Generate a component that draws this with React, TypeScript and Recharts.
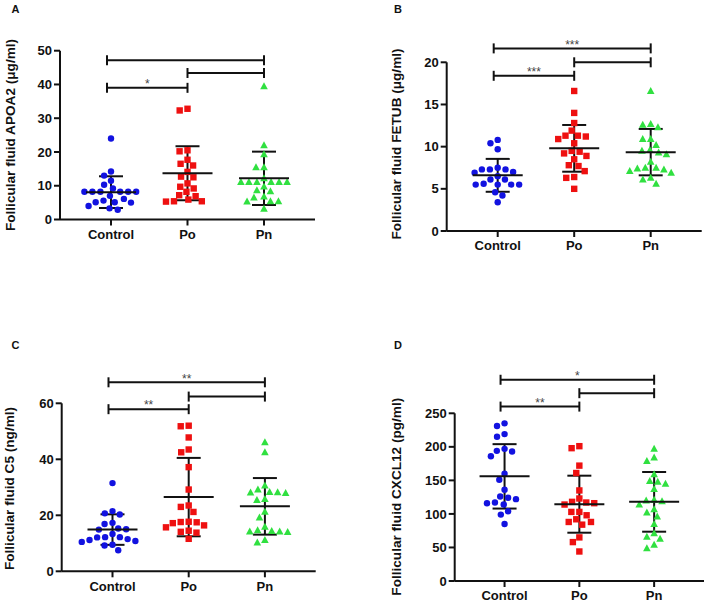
import { ComposedChart, Scatter, XAxis, YAxis, ReferenceLine, ErrorBar } from "recharts";

const GROUPS = ["Control", "Po", "Pn"];
const COLORS = ["#1212e0", "#ee1010", "#30e040"];
const SHAPES = ["circle", "square", "triangle"];
const FONT = '"Liberation Sans", Arial, sans-serif';
const INK = "#111";

// Panel A: APOA2 (μg/ml)
const A_CONTROL = [24.0, 14.2, 13.0, 11.5, 10.3, 9.2, 8.2, 8.2, 8.2, 8.2, 8.2, 8.2, 7.0, 6.1, 5.6, 5.1, 5.1, 5.0, 4.0, 3.3, 2.9];
const A_PO = [32.8, 32.3, 20.5, 20.2, 17.7, 16.5, 16.0, 14.1, 12.7, 12.5, 10.7, 9.7, 9.2, 8.2, 7.2, 6.9, 5.9, 5.4, 5.4, 5.3];
const A_PN = [39.5, 22.0, 19.3, 15.5, 15.5, 12.2, 11.1, 11.1, 11.1, 11.1, 11.1, 11.1, 9.8, 8.7, 8.4, 6.8, 6.5, 5.4, 5.4, 5.3, 3.2];
const A_MEAN = [8.1, 13.7, 12.2];
const A_SD = [4.7, 8.0, 7.9];
const A_TICKS = [0, 10, 20, 30, 40, 50];
const A_BRACKETS = [
  { from: 1, to: 3, y: 47.2, mark: "" },
  { from: 2, to: 3, y: 43.4, mark: "" },
  { from: 1, to: 2, y: 39.0, mark: "*" },
];

// Panel B: FETUB (μg/ml)
const B_CONTROL = [10.8, 10.4, 9.7, 7.5, 7.3, 7.3, 7.3, 7.0, 6.9, 6.5, 6.1, 6.1, 5.6, 5.5, 5.5, 5.5, 5.5, 4.6, 4.2, 3.4];
const B_PO = [16.6, 14.0, 12.8, 11.9, 11.3, 11.3, 11.2, 10.9, 10.4, 9.5, 9.4, 9.2, 8.9, 8.5, 7.8, 7.7, 7.1, 6.4, 6.3, 5.0];
const B_PN = [16.6, 12.7, 12.6, 12.3, 10.9, 10.9, 10.2, 9.6, 9.5, 9.3, 9.1, 8.2, 7.5, 7.5, 7.4, 7.3, 7.1, 6.9, 6.3, 6.1, 5.6];
const B_MEAN = [6.6, 9.8, 9.35];
const B_SD = [1.95, 2.77, 2.75];
const B_TICKS = [0, 5, 10, 15, 20];
const B_BRACKETS = [
  { from: 1, to: 3, y: 21.65, mark: "***" },
  { from: 2, to: 3, y: 20.0, mark: "" },
  { from: 1, to: 2, y: 18.4, mark: "***" },
];

// Panel C: C5 (ng/ml)
const C_CONTROL = [31.5, 21.5, 20.7, 20.3, 17.3, 16.9, 15.3, 15.0, 14.9, 13.3, 12.2, 12.2, 12.1, 11.5, 11.2, 10.8, 10.5, 9.5, 9.2, 7.5];
const C_PO = [52.0, 51.8, 47.8, 43.5, 42.5, 37.2, 29.2, 23.5, 23.0, 21.2, 17.7, 17.6, 17.5, 17.2, 16.4, 15.7, 14.5, 14.1, 13.8, 11.6];
const C_PN = [46.1, 42.5, 30.6, 29.2, 28.3, 28.2, 28.1, 28.0, 25.8, 25.5, 21.3, 19.2, 15.9, 14.7, 14.4, 14.2, 14.2, 14.0, 11.2, 10.3];
const C_MEAN = [14.9, 26.5, 23.2];
const C_SD = [5.45, 14.0, 10.1];
const C_TICKS = [0, 20, 40, 60];
const C_BRACKETS = [
  { from: 1, to: 3, y: 67.5, mark: "**" },
  { from: 2, to: 3, y: 62.4, mark: "" },
  { from: 1, to: 2, y: 57.9, mark: "**" },
];

// Panel D: CXCL12 (pg/ml)
const D_CONTROL = [235, 231, 219, 215, 197, 194, 193, 186, 160, 151, 136, 126, 124, 122, 117, 116, 114, 104, 99, 85];
const D_PO = [201, 198, 172, 161, 135, 123, 118, 117, 116, 114, 103, 103, 98, 92, 88, 88, 84, 65, 58, 44];
const D_PN = [197, 184, 179, 159, 149, 148, 145, 137, 121, 120, 119, 114, 107, 102, 96, 85, 71, 66, 63, 54, 49];
const D_MEAN = [156, 114.5, 118];
const D_SD = [48, 42.5, 44.5];
const D_TICKS = [0, 50, 100, 150, 200, 250];
const D_BRACKETS = [
  { from: 1, to: 3, y: 300, mark: "*" },
  { from: 2, to: 3, y: 280, mark: "" },
  { from: 1, to: 2, y: 260, mark: "**" },
];

const X_MIN = 1 / 3;
const X_MAX = 11 / 3;
const PW = 354;
const PH = 310;
const YW = 40;
const XH = 26;

const PANELS = [
  {
    letter: "A", title: "Follicular fluid APOA2 (μg/ml)", left: 0, top: 0,
    plotLeft: 60, plotRight: 315, plotTop: 50.7, plotBottom: 219.5, yMax: 50, ticks: A_TICKS,
    groups: [A_CONTROL, A_PO, A_PN], mean: A_MEAN, sd: A_SD, brackets: A_BRACKETS,
    labelX: 10, labelY: 135, letterX: 15.5, letterY: 12.5,
  },
  {
    letter: "B", title: "Follicular fluid FETUB (μg/ml)", left: 354, top: 0,
    plotLeft: 92.7, plotRight: 347.7, plotTop: 62.3, plotBottom: 231, yMax: 20, ticks: B_TICKS,
    groups: [B_CONTROL, B_PO, B_PN], mean: B_MEAN, sd: B_SD, brackets: B_BRACKETS,
    labelX: 42.7, labelY: 144, letterX: 44, letterY: 12.5,
  },
  {
    letter: "C", title: "Follicular fluid C5 (ng/ml)", left: 0, top: 300,
    plotLeft: 61.7, plotRight: 315.7, plotTop: 103.3, plotBottom: 271.3, yMax: 60, ticks: C_TICKS,
    groups: [C_CONTROL, C_PO, C_PN], mean: C_MEAN, sd: C_SD, brackets: C_BRACKETS,
    labelX: 9.3, labelY: 188.5, letterX: 15.5, letterY: 48.7,
  },
  {
    letter: "D", title: "Follicular fluid CXCL12 (pg/ml)", left: 354, top: 300,
    plotLeft: 100.7, plotRight: 350, plotTop: 113.3, plotBottom: 281, yMax: 250, ticks: D_TICKS,
    groups: [D_CONTROL, D_PO, D_PN], mean: D_MEAN, sd: D_SD, brackets: D_BRACKETS,
    labelX: 42.7, labelY: 196.7, letterX: 44, letterY: 48.7,
  },
];

// simple beeswarm: push overlapping points sideways, in pixel space
function swarm(values: number[], group: number, pxX: number, pxY: number) {
  const D = 8;
  const placed: { px: number; py: number }[] = [];
  const out: { x: number; y: number }[] = new Array(values.length);
  const order = values.map((_, i) => i).sort((a, b) => values[b] - values[a]);
  for (const i of order) {
    const py = values[i] * pxY;
    const blocked: [number, number][] = [];
    for (const p of placed) {
      const dy = Math.abs(p.py - py);
      if (dy < D) {
        const w = Math.sqrt(D * D - dy * dy);
        blocked.push([p.px - w, p.px + w]);
      }
    }
    const cands = [0];
    blocked.forEach(([a, b]) => cands.push(a, b));
    cands.sort((a, b) => Math.abs(a) - Math.abs(b) || a - b);
    const px = cands.find((c) => blocked.every(([a, b]) => c <= a + 1e-6 || c >= b - 1e-6)) ?? 0;
    placed.push({ px, py });
    out[i] = { x: group + px / pxX, y: values[i] };
  }
  return out;
}

function marker(kind: string, color: string) {
  return (p: any) => {
    const { cx, cy } = p;
    if (kind === "circle") return <circle cx={cx} cy={cy} r={3.2} fill={color} />;
    if (kind === "square") return <rect x={cx - 3.2} y={cy - 3.2} width={6.4} height={6.4} fill={color} />;
    return <polygon points={`${cx},${cy - 4} ${cx - 3.8},${cy + 3} ${cx + 3.8},${cy + 3}`} fill={color} />;
  };
}

const meanLine = (p: any) => (
  <line x1={p.cx - 25} x2={p.cx + 25} y1={p.cy} y2={p.cy} stroke={INK} strokeWidth={2} />
);

function Panel({ cfg }: { cfg: (typeof PANELS)[number] }) {
  const pxX = (cfg.plotRight - cfg.plotLeft) / (X_MAX - X_MIN);
  const pxY = (cfg.plotBottom - cfg.plotTop) / cfg.yMax;
  const capY = 5 / pxY;
  const startShift = 4 / pxX;
  const means = cfg.mean.map((m, i) => ({ x: i + 1, y: m, err: cfg.sd[i] }));
  const axisStyle = { stroke: INK, strokeWidth: 2 };
  const tickStyle = { fill: INK, fontSize: 13, fontWeight: 700, fontFamily: FONT };

  return (
    <div style={{ position: "absolute", left: cfg.left, top: cfg.top, width: PW, height: PH }}>
      <ComposedChart
        width={PW}
        height={PH}
        margin={{
          top: cfg.plotTop,
          left: cfg.plotLeft - YW,
          right: PW - cfg.plotRight,
          bottom: PH - cfg.plotBottom - XH,
        }}
      >
        <XAxis
          type="number"
          dataKey="x"
          domain={[X_MIN, X_MAX]}
          ticks={[1, 2, 3]}
          interval={0}
          allowDataOverflow
          tickFormatter={(v: number) => GROUPS[v - 1]}
          axisLine={axisStyle}
          tickLine={axisStyle}
          tickSize={6}
          tickMargin={4}
          height={XH}
          tick={tickStyle}
        />
        <YAxis
          type="number"
          dataKey="y"
          domain={[0, cfg.yMax]}
          ticks={cfg.ticks}
          interval={0}
          allowDataOverflow
          axisLine={axisStyle}
          tickLine={axisStyle}
          tickSize={6}
          tickMargin={2}
          width={YW}
          tick={tickStyle}
        />
        {cfg.groups.map((vals, g) => (
          <Scatter
            key={GROUPS[g]}
            data={swarm(vals, g + 1, pxX, pxY)}
            dataKey="y"
            fill={COLORS[g]}
            shape={marker(SHAPES[g], COLORS[g])}
            isAnimationActive={false}
          />
        ))}
        <Scatter data={means} dataKey="y" shape={meanLine} isAnimationActive={false}>
          <ErrorBar dataKey="err" direction="y" width={12} stroke={INK} strokeWidth={2} isAnimationActive={false} />
        </Scatter>
        {cfg.brackets.map((b, k) => {
          const x1 = b.from === 1 ? b.from - startShift : b.from;
          return [
            <ReferenceLine
              key={`h${k}`}
              segment={[{ x: x1, y: b.y }, { x: b.to, y: b.y }]}
              stroke={INK}
              strokeWidth={2}
              ifOverflow="visible"
              label={b.mark ? { value: b.mark, position: "center", dy: -4, fill: "#444", fontSize: 12, fontFamily: FONT } : undefined}
            />,
            <ReferenceLine
              key={`l${k}`}
              segment={[{ x: x1, y: b.y - capY }, { x: x1, y: b.y + capY }]}
              stroke={INK}
              strokeWidth={2}
              ifOverflow="visible"
            />,
            <ReferenceLine
              key={`r${k}`}
              segment={[{ x: b.to, y: b.y - capY }, { x: b.to, y: b.y + capY }]}
              stroke={INK}
              strokeWidth={2}
              ifOverflow="visible"
            />,
          ];
        })}
        <text
          x={cfg.labelX}
          y={cfg.labelY}
          transform={`rotate(-90 ${cfg.labelX} ${cfg.labelY})`}
          textAnchor="middle"
          dominantBaseline="central"
          fontSize={13.6}
          fontWeight={700}
          fontFamily={FONT}
          fill={INK}
        >
          {cfg.title}
        </text>
        <text x={cfg.letterX} y={cfg.letterY} textAnchor="middle" fontSize={11} fontWeight={700} fontFamily={FONT} fill={INK}>
          {cfg.letter}
        </text>
      </ComposedChart>
    </div>
  );
}

export default function App() {
  return (
    <div
      style={{
        position: "absolute",
        left: 0,
        top: 0,
        width: 708,
        height: 603,
        overflow: "hidden",
        background: "#fff",
      }}
    >
      {PANELS.map((cfg) => (
        <Panel key={cfg.letter} cfg={cfg} />
      ))}
    </div>
  );
}
